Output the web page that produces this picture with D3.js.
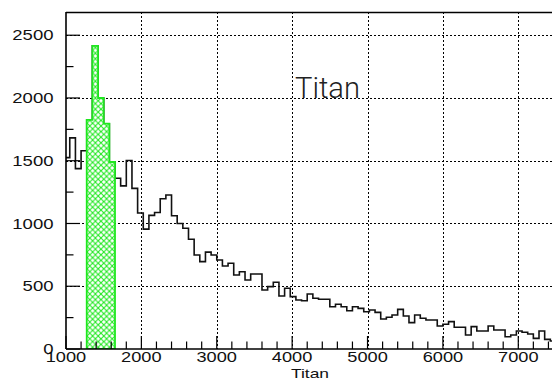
<!DOCTYPE html>
<html>
<head>
<meta charset="utf-8">
<script src="https://cdn.jsdelivr.net/npm/d3@7"></script>
<style>
  html, body { margin: 0; padding: 0; background: #fff; overflow: hidden; }
  svg { display: block; }
</style>
</head>
<body>
<svg id="chart" width="552" height="379"></svg>
<script>
// Histogram: 100 bins of width 75 on [0, 7500]; only bins from index 13 on are in view.
const binWidth = 75;
const firstBin = 13;
const allCounts = [
  1525, 1682, 1437, 1580, 1825, 2415, 2000, 1795, 1490, 1360,
  1300, 1502, 1280, 1083, 955, 1065, 1088, 1197, 1227, 1062,
  1000, 962, 874, 749, 696, 772, 749, 709, 661, 683,
  590, 616, 550, 598, 598, 470, 497, 532, 422, 484,
  417, 391, 385, 438, 404, 396, 396, 337, 356, 337,
  305, 337, 324, 297, 311, 292, 239, 253, 271, 316,
  263, 210, 271, 245, 231, 231, 183, 197, 218, 173,
  173, 112, 178, 143, 143, 183, 151, 151, 98, 112,
  143, 133, 120, 85, 143, 77, 64
];
// Selected (highlighted) bins
const selFirstBin = 17;
const selCounts = [1825, 2415, 2000, 1795, 1490];

const xDomain = [1000, 7500];
const yDomain = [0, 2685];
const xMajorTicks = [1000, 2000, 3000, 4000, 5000, 6000, 7000];
const yMajorTicks = [0, 500, 1000, 1500, 2000, 2500];
const xAxisTitle = "Titan";
const plotLabel = "Titan";

(function draw() {
  const svg = d3.select("#chart");
  const W = 552, H = 379;
  const mLeft = 66, mTop = 12, mBottom = 349;
  const mRight = mLeft + (xDomain[1] - xDomain[0]) * 0.07538;

  const x = d3.scaleLinear().domain(xDomain).range([mLeft, mRight]);
  const y = d3.scaleLinear().domain(yDomain).range([mBottom, mTop]);

  svg.append("rect").attr("width", W).attr("height", H).attr("fill", "#fff");

  const defs = svg.append("defs");
  defs.append("clipPath").attr("id", "plotClip")
    .append("rect").attr("x", mLeft).attr("y", mTop)
    .attr("width", mRight - mLeft).attr("height", mBottom - mTop);

  // Cross-hatch fill for the selection
  const hatch = defs.append("pattern").attr("id", "hatch")
    .attr("patternUnits", "userSpaceOnUse")
    .attr("width", 5.6).attr("height", 5.6)
    .attr("x", 87).attr("y", 0);
  hatch.append("rect").attr("width", 5.6).attr("height", 5.6).attr("fill", "#fff");
  hatch.append("path").attr("d", "M0,0 L5.6,5.6 M5.6,0 L0,5.6")
    .attr("stroke", "#22e822").attr("stroke-width", 1.1).attr("fill", "none");

  // Grid (dotted) at major ticks
  const grid = svg.append("g").attr("stroke", "#000").attr("stroke-width", 1)
    .attr("stroke-dasharray", "2,2").attr("fill", "none");
  xMajorTicks.filter(v => v > xDomain[0]).forEach(v => {
    const px = Math.round(x(v)) + 0.5;
    grid.append("line").attr("x1", px).attr("x2", px).attr("y1", mTop).attr("y2", mBottom);
  });
  yMajorTicks.filter(v => v > 0).forEach(v => {
    const py = Math.round(y(v)) + 0.5;
    grid.append("line").attr("x1", mLeft).attr("x2", mRight).attr("y1", py).attr("y2", py);
  });

  const plot = svg.append("g").attr("clip-path", "url(#plotClip)");

  // Step outline for the full histogram
  const allPts = allCounts.map((c, i) => [(firstBin + i) * binWidth, c]);
  allPts.push([(firstBin + allCounts.length) * binWidth, allCounts[allCounts.length - 1]]);
  const stepLine = d3.line().x(d => x(d[0])).y(d => y(d[1])).curve(d3.curveStepAfter);
  plot.append("path").attr("d", stepLine(allPts))
    .attr("fill", "none").attr("stroke", "#111").attr("stroke-width", 1.6);

  // Highlighted bins: hatched area with green outline
  const selPts = selCounts.map((c, i) => [(selFirstBin + i) * binWidth, c]);
  selPts.push([(selFirstBin + selCounts.length) * binWidth, selCounts[selCounts.length - 1]]);
  const stepArea = d3.area().x(d => x(d[0])).y0(y(0)).y1(d => y(d[1])).curve(d3.curveStepAfter);
  plot.append("path").attr("d", stepArea(selPts))
    .attr("fill", "url(#hatch)").attr("stroke", "#1ee81e").attr("stroke-width", 1.8);

  // Frame: left axis, bottom axis, top edge
  const frame = svg.append("g").attr("stroke", "#000").attr("fill", "none");
  frame.append("line").attr("x1", mLeft).attr("x2", mLeft).attr("y1", mTop).attr("y2", mBottom).attr("stroke-width", 1.6);
  frame.append("line").attr("x1", mLeft).attr("x2", W + 5).attr("y1", mBottom).attr("y2", mBottom).attr("stroke-width", 1.6);
  frame.append("line").attr("x1", mLeft).attr("x2", W + 5).attr("y1", mTop + 0.5).attr("y2", mTop + 0.5).attr("stroke-width", 1.6);

  // Ticks, drawn inward
  const ticks = svg.append("g").attr("stroke", "#000").attr("stroke-width", 1.2);
  d3.range(xDomain[0], xDomain[1] + 1, 200).forEach(v => {
    const major = v % 1000 === 0;
    const px = x(v);
    ticks.append("line").attr("x1", px).attr("x2", px)
      .attr("y1", mBottom).attr("y2", mBottom - (major ? 13 : 7.5));
  });
  d3.range(0, yDomain[1], 250).forEach(v => {
    const major = v % 500 === 0;
    const py = y(v);
    ticks.append("line").attr("x1", mLeft).attr("x2", mLeft + (major ? 14 : 7.5))
      .attr("y1", py).attr("y2", py);
  });

  // Tick labels
  const labelFont = "'Liberation Sans', Arial, sans-serif";
  const yl = svg.append("g").attr("font-family", labelFont).attr("font-size", 14.5).attr("fill", "#111");
  yMajorTicks.forEach(v => {
    const s = String(v);
    yl.append("text").attr("x", 53.5).attr("y", y(v) + 5.2)
      .attr("text-anchor", "end")
      .attr("textLength", s.length * 10.3).attr("lengthAdjust", "spacingAndGlyphs")
      .text(s);
  });
  const xl = svg.append("g").attr("font-family", labelFont).attr("font-size", 15.5).attr("fill", "#111");
  xMajorTicks.forEach(v => {
    const s = String(v);
    xl.append("text").attr("x", x(v)).attr("y", 361.8)
      .attr("text-anchor", "middle")
      .attr("textLength", 40.5).attr("lengthAdjust", "spacingAndGlyphs")
      .text(s);
  });

  // Axis title
  svg.append("text").attr("x", 291).attr("y", 377.5)
    .attr("font-family", labelFont).attr("font-size", 13).attr("fill", "#111")
    .attr("textLength", 38).attr("lengthAdjust", "spacingAndGlyphs")
    .text(xAxisTitle);

  // Label inside the plot
  svg.append("text").attr("x", 295).attr("y", 97.7)
    .attr("font-family", "Roboto, 'DejaVu Sans', sans-serif").attr("font-weight", 300)
    .attr("font-size", 30).attr("fill", "#222")
    .attr("textLength", 65).attr("lengthAdjust", "spacingAndGlyphs")
    .text(plotLabel);
})();
</script>
</body>
</html>
